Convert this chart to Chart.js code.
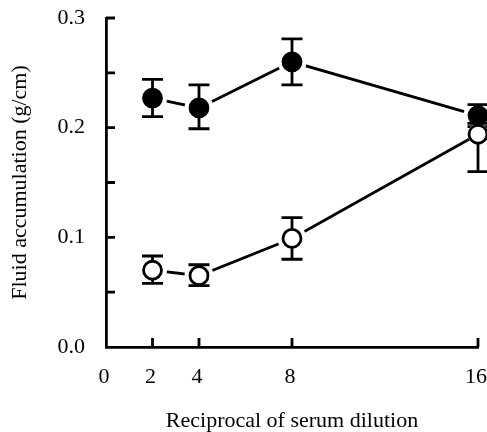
<!DOCTYPE html>
<html>
<head>
<meta charset="utf-8">
<script src="https://cdn.jsdelivr.net/npm/chart.js@4"></script>
<style>
  html, body { margin: 0; padding: 0; background: #fff; }
  #wrap { width: 487px; height: 432px; }
</style>
</head>
<body>
<div id="wrap"><canvas id="c" width="487" height="432"></canvas></div>
<script>
// ---- data ----
const doses = [2, 4, 8, 16];
const xTickValues = [0, 2, 4, 8, 16];
const yTickValues = [0, 0.05, 0.1, 0.15, 0.2, 0.25, 0.3];

const filledMean  = [0.227, 0.218, 0.260, 0.211];
const filledUpper = [0.244, 0.239, 0.281, 0.221];
const filledLower = [0.210, 0.199, 0.239, 0.201];

const openMean  = [0.070, 0.065, 0.099, 0.194];
const openUpper = [0.083, 0.075, 0.118, 0.204];
const openLower = [0.058, 0.056, 0.080, 0.160];

const xTitle = 'Reciprocal of serum dilution';
const yTitle = 'Fluid accumulation (g/cm)';

const pts = (ys) => doses.map((x, i) => ({ x: x, y: ys[i] }));

const FONT = '"Liberation Serif", "Times New Roman", serif';
const LW = 2.8;

const errorBarPlugin = {
  id: 'errorBars',
  beforeDatasetDraw(chart, args) {
    const ds = chart.data.datasets[args.index];
    if (!ds.errUpper) return;
    const ctx = chart.ctx;
    const xs = chart.scales.x, ys = chart.scales.y;
    ctx.save();
    ctx.strokeStyle = '#000';
    ctx.lineWidth = LW;
    const cap = 10.5;
    ds.data.forEach((p, i) => {
      const px = xs.getPixelForValue(p.x);
      const yt = ys.getPixelForValue(ds.errUpper[i]);
      const yb = ys.getPixelForValue(ds.errLower[i]);
      ctx.beginPath();
      ctx.moveTo(px, yt); ctx.lineTo(px, yb);
      ctx.moveTo(px - cap, yt); ctx.lineTo(px + cap, yt);
      ctx.moveTo(px - cap, yb); ctx.lineTo(px + cap, yb);
      ctx.stroke();
    });
    ctx.restore();
  }
};

const inwardTicks = {
  id: 'inwardTicks',
  beforeDatasetsDraw(chart) {
    const ctx = chart.ctx;
    const xs = chart.scales.x, ys = chart.scales.y;
    const len = 9;
    ctx.save();
    ctx.strokeStyle = '#000';
    ctx.lineWidth = LW;
    ctx.beginPath();
    xTickValues.forEach(v => {
      if (v === 0) return;
      const px = xs.getPixelForValue(v);
      ctx.moveTo(px, ys.bottom); ctx.lineTo(px, ys.bottom - len);
    });
    yTickValues.forEach(v => {
      if (v === 0) return;
      const py = ys.getPixelForValue(v);
      ctx.moveTo(xs.left, py); ctx.lineTo(xs.left + len, py);
    });
    ctx.stroke();
    ctx.restore();
  }
};

new Chart(document.getElementById('c'), {
  type: 'scatter',
  data: {
    datasets: [
      { // filled line
        data: pts(filledMean), showLine: true, borderColor: '#000', borderWidth: LW,
        pointRadius: 0, order: 8, clip: false
      },
      { // open line
        data: pts(openMean), showLine: true, borderColor: '#000', borderWidth: LW,
        pointRadius: 0, order: 7, clip: false
      },
      { // filled halo
        data: pts(filledMean), showLine: false, pointRadius: 14.5, pointBorderWidth: 0,
        pointBackgroundColor: '#fff', pointBorderColor: '#fff', order: 6, clip: false
      },
      { // filled markers
        data: pts(filledMean), showLine: false, pointRadius: 9, pointBorderWidth: LW,
        pointBackgroundColor: '#000', pointBorderColor: '#000', order: 5, clip: false,
        errUpper: filledUpper, errLower: filledLower
      },
      { // open halo
        data: pts(openMean), showLine: false, pointRadius: [14.5, 14.5, 14.5, 10.5], pointBorderWidth: 0,
        pointBackgroundColor: '#fff', pointBorderColor: '#fff', order: 4, clip: false
      },
      { // open markers
        data: pts(openMean), showLine: false, pointRadius: 9, pointBorderWidth: LW,
        pointBackgroundColor: '#fff', pointBorderColor: '#000', order: 3, clip: false,
        errUpper: openUpper, errLower: openLower
      }
    ]
  },
  options: {
    responsive: false,
    animation: false,
    events: [],
    layout: { autoPadding: false, padding: { top: 18, right: 9, left: 0, bottom: 0 } },
    plugins: { legend: { display: false }, tooltip: { enabled: false } },
    elements: { point: { hoverRadius: 0 } },
    scales: {
      x: {
        type: 'linear', min: 0, max: 16,
        afterBuildTicks: s => { s.ticks = xTickValues.map(v => ({ value: v })); },
        afterFit: s => { s.height = 85; s.paddingLeft = 0; s.paddingRight = 0; },
        grid: { display: true, drawOnChartArea: false, drawTicks: false },
        border: { display: true, color: '#000', width: LW },
        ticks: { color: '#000', padding: 17, maxRotation: 0, autoSkip: false, labelOffset: -2,
                 font: { family: FONT, size: 22 }, callback: v => String(v) },
        title: { display: true, text: xTitle, color: '#000',
                 font: { family: FONT, size: 22, lineHeight: 1 }, padding: { top: 0, bottom: 0 } }
      },
      y: {
        type: 'linear', min: 0, max: 0.3,
        afterBuildTicks: s => { s.ticks = yTickValues.map(v => ({ value: v })); },
        afterFit: s => { s.width = 106; s.paddingTop = 0; s.paddingBottom = 0; },
        grid: { display: true, drawOnChartArea: false, drawTicks: false },
        border: { display: true, color: '#000', width: LW },
        ticks: { color: '#000', padding: 21, autoSkip: false,
                 font: { family: FONT, size: 22 },
                 callback: v => (Math.round(v * 100) % 10 === 0 ? v.toFixed(1) : '') },
        title: { display: true, text: yTitle, color: '#000',
                 font: { family: FONT, size: 22, lineHeight: 1 }, padding: { top: 9, bottom: 0 } }
      }
    }
  },
  plugins: [inwardTicks, errorBarPlugin]
});
</script>
</body>
</html>
